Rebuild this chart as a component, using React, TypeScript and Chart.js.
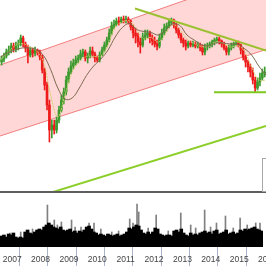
import React, { useEffect, useRef } from 'react';
import { Chart, registerables } from 'chart.js';

Chart.register(...registerables);

// x values are months counted from the start of January 2007
const X_MIN = 0.84;
const X_MAX = 112.04;
const FIRST_CANDLE_MONTH = 1; // Feb 2007, monthly candles

const open = [130,133,136,140,142,146,143,147,148,154,148,144,137,142,139,142,140,135,122,107,87,62,67,62,72,82,92,100,112,120,126,129,132,134,138,140,134,136,141,138,134,132,137,142,147,152,159,166,168,171,170,173,172,173,171,165,159,156,150,147,155,157,159,154,151,148,146,154,159,164,166,170,172,167,162,157,152,149,146,149,147,148,146,147,144,140,145,146,148,150,152,153,151,148,144,140,144,146,148,149,147,142,135,130,125,120,112,104,110,114,119];
const close = [133,136,140,142,146,143,147,148,154,148,144,137,142,139,142,140,135,122,107,87,62,67,62,72,82,92,100,112,120,126,129,132,134,138,140,134,136,141,138,134,132,137,142,147,152,159,166,168,171,170,173,172,173,171,165,159,156,150,147,155,157,159,154,151,148,146,154,159,164,166,170,172,167,162,157,152,149,146,149,147,148,146,147,144,140,145,146,148,150,152,153,151,148,144,140,144,146,148,149,147,142,135,130,125,120,112,104,110,114,119,120];
const high = [136,139,143,146,149,149,150,152,157,156,150,147,145,144,145,143,142,137,124,110,92,72,72,75,86,97,104,116,124,131,133,136,137,142,143,142,139,145,145,140,136,140,145,150,155,163,170,172,174,175,175,176,176,175,172,167,164,159,154,159,162,162,161,157,155,152,158,163,168,169,173,174,173,169,164,159,154,152,151,151,151,150,150,149,147,148,149,150,152,154,155,155,152,150,146,147,149,150,151,151,148,144,137,132,128,124,115,114,119,123,125];
const low = [127,130,134,137,139,140,140,142,146,145,140,129,135,135,136,137,132,119,102,82,50,54,58,59,69,80,88,97,109,118,123,127,129,132,135,131,129,134,135,130,130,130,136,140,145,150,157,163,166,167,169,169,169,168,162,154,149,145,139,145,152,154,149,147,145,142,144,152,157,161,164,167,164,159,154,149,145,142,144,145,145,144,144,141,137,137,142,144,145,147,149,148,145,142,137,137,142,144,146,145,138,132,125,120,115,108,100,102,106,112,115];

const volume = [11,12,10,13,12,14,10,9,10,9,15,17,14,13,15,17,18,17,20,22,24,22,20,19,18,20,17,16,17,18,15,16,14,16,15,17,20,21,18,15,14,12,13,12,11,13,12,11,12,13,11,12,13,15,19,18,20,22,21,17,14,13,15,13,15,19,18,13,12,11,12,12,11,16,17,15,18,14,12,11,14,12,13,12,14,15,16,14,15,13,16,17,13,14,15,17,13,14,15,13,14,17,16,18,17,18,19,20,18,17,16];
const spikeMonths = [5.0,9.6,14.6,20.9,23.8,25.1,26.8,31.1,32.6,35.1,38.5,40.6,43.5,48.1,51.0,55.7,57.1,58.8,59.5,63.5,66.9,72.0,77.3,81.5,83.6,87.4,89.9,92.4,96.2,99.5,102.4,105.4,109.0,110.8];
const spikeVolume = [14,15,18,42,27,22,25,27,20,20,24,24,18,15,16,28,24,43,35,19,32,16,34,22,19,37,20,24,31,19,29,22,24,24];

const maMonths = [1,4,7,10,13,16,19,22,25,28,31,34,37,40,43,46,49,52,55,58,61,64,67,70,73,76,79,82,85,88,91,94,97,100,103,106,109,112];
const slowMA = [135,139,142,144,144,142.5,136.5,122.5,104,93,94,104,116.5,126,133,142,155,164.5,168.5,162.5,160.5,159.5,157,161.5,168,166.5,157,152,147.5,146,149,149,148,148,143.5,137,126,117];
const fastMA = [132,139,146,148.5,145.5,141.5,130,97,75,97,120,130,135.5,135.5,136,147,165,170,171,162,153,154.5,150,158,167.5,162.5,153,148.5,145.5,145.5,150,149,145,146.5,141,125,112,112];

const channelX = [0.84, 112.04];
const channelUpperY = [127, 220];
const channelLowerY = [56, 142.5];
const resistX = [57.27, 112.04];
const resistY = [183.5, 141.5];
const supportX = [90.3, 112.04];
const supportY = [99.7, 99.7];
const trendX = [23.0, 112.04];
const trendY = [0, 66];

const yearBounds = [12, 24, 36, 48, 60, 72, 84, 96, 108];
const yearMids = [6, 18, 30, 42, 54, 66, 78, 90, 102, 114];
const yearLabels = ['2007', '2008', '2009', '2010', '2011', '2012', '2013', '2014', '2015', '2016'];

const UP = '#3c9a2e';
const DOWN = '#ee1c1c';

const pts = (xs: number[], ys: number[]) => xs.map((x, i) => ({ x, y: ys[i] }));

export default function App() {
  const priceRef = useRef<HTMLCanvasElement>(null);
  const volRef = useRef<HTMLCanvasElement>(null);

  useEffect(() => {
    Chart.defaults.font.family = "'Liberation Sans', Arial, sans-serif";
    const candleMonths = open.map((_, i) => FIRST_CANDLE_MONTH + i + 0.5);
    const colors = close.map((c, i) => (c >= open[i] ? UP : DOWN));
    const lineBase = { type: 'line' as const, pointRadius: 0, fill: false };

    const price = new Chart(priceRef.current!, {
      type: 'bar',
      data: {
        datasets: [
          { ...lineBase, data: pts(channelX, channelUpperY), borderColor: '#f27e7e', borderWidth: 1, order: 6 },
          { ...lineBase, data: pts(channelX, channelLowerY), borderColor: '#f27e7e', borderWidth: 1, fill: '-1', backgroundColor: '#ffd7d7', order: 6 },
          { type: 'bar', data: candleMonths.map((m, i) => ({ x: m, y: [low[i], high[i]] })), backgroundColor: colors, barThickness: 1, grouped: false, order: 4 } as any,
          { type: 'bar', data: candleMonths.map((m, i) => ({ x: m, y: [open[i], close[i]] })), backgroundColor: colors, barThickness: 2, minBarLength: 1, grouped: false, order: 4 } as any,
          { ...lineBase, data: pts(maMonths, slowMA), borderColor: '#7d6b4f', borderWidth: 1, tension: 0.4, order: 3 },
          { ...lineBase, data: pts(maMonths, fastMA), borderColor: '#d0cf6c', borderWidth: 1, borderDash: [2, 1], tension: 0.4, order: 3 },
          { ...lineBase, data: pts(resistX, resistY), borderColor: '#9cc130', borderWidth: 2, order: 1 },
          { ...lineBase, data: pts(supportX, supportY), borderColor: '#7ec820', borderWidth: 2, order: 1 },
          { ...lineBase, data: pts(trendX, trendY), borderColor: '#8ccf2a', borderWidth: 2, order: 1 },
        ] as any,
      },
      options: {
        animation: false,
        responsive: false,
        events: [],
        plugins: { legend: { display: false }, tooltip: { enabled: false } },
        scales: {
          x: { type: 'linear', min: X_MIN, max: X_MAX, display: false, offset: false },
          y: { min: 1, max: 192, display: false },
        },
      },
    });

    const vol = new Chart(volRef.current!, {
      type: 'bar',
      data: {
        datasets: [
          { data: candleMonths.map((m, i) => ({ x: m, y: volume[i] })), backgroundColor: '#000000', barThickness: 3, grouped: false },
          { data: spikeMonths.map((m, i) => ({ x: m, y: spikeVolume[i] })), backgroundColor: '#808080', barThickness: 1, grouped: false },
        ] as any,
      },
      options: {
        animation: false,
        responsive: false,
        events: [],
        plugins: { legend: { display: false }, tooltip: { enabled: false } },
        scales: {
          x: {
            type: 'linear',
            min: X_MIN,
            max: X_MAX,
            offset: false,
            position: 'bottom',
            afterBuildTicks: (s: any) => {
              s.ticks = [...yearBounds, ...yearMids].sort((a, b) => a - b).map((v) => ({ value: v }));
            },
            afterFit: (s: any) => {
              s.height = 19;
            },
            grid: {
              drawOnChartArea: false,
              drawTicks: true,
              tickLength: 19,
              lineWidth: 1,
              color: (c: any) => (c.tick && yearBounds.includes(c.tick.value) ? '#aab4c8' : 'rgba(0,0,0,0)'),
            },
            border: { display: false },
            ticks: {
              autoSkip: false,
              maxRotation: 0,
              minRotation: 0,
              padding: -11,
              color: '#444444',
              font: { size: 8.5 },
              callback: (v: any) => {
                const i = yearMids.indexOf(Number(v));
                return i >= 0 ? yearLabels[i] : '';
              },
            },
          },
          y: { min: 0, max: 54, display: false },
        },
      },
    });

    return () => {
      price.destroy();
      vol.destroy();
    };
  }, []);

  return (
    <div style={{ position: 'fixed', left: 0, top: 0, width: 266, height: 266, background: '#ffffff', overflow: 'hidden' }}>
      <canvas ref={priceRef} width={266} height={191} style={{ position: 'absolute', left: 0, top: 0, width: 266, height: 191 }} />
      <div style={{ position: 'absolute', left: 0, top: 191, width: 266, height: 2, background: '#5e5e5e' }} />
      <div style={{ position: 'absolute', left: 262, top: 158, width: 6, height: 32, background: '#ffffff', border: '1px solid #a8a8a8' }} />
      <canvas ref={volRef} width={266} height={73} style={{ position: 'absolute', left: 0, top: 193, width: 266, height: 73 }} />
    </div>
  );
}
